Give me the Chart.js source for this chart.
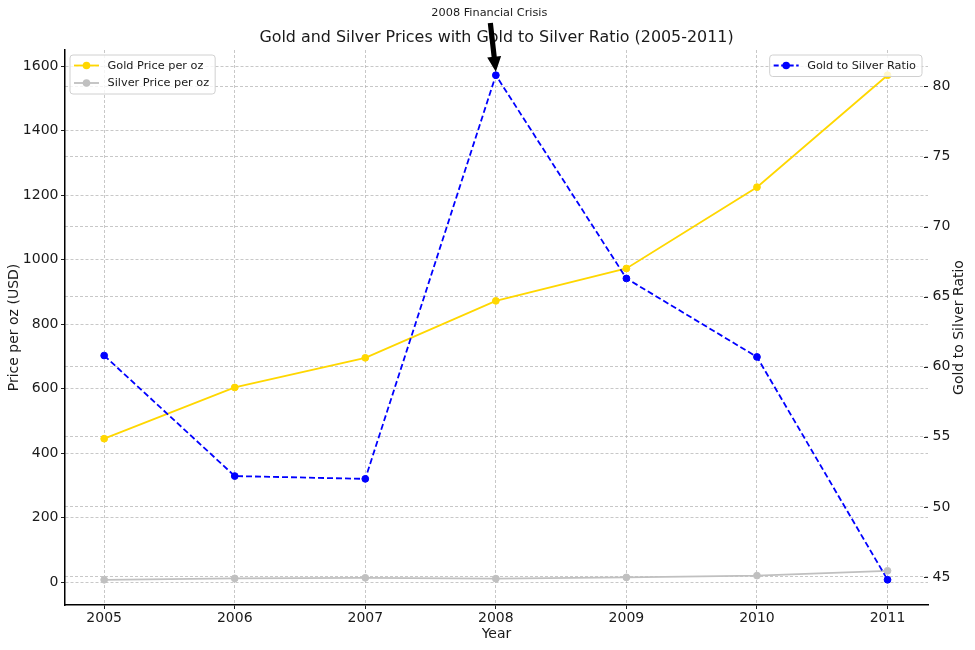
<!DOCTYPE html>
<html>
<head>
<meta charset="utf-8">
<script src="https://cdn.jsdelivr.net/npm/chart.js@4/dist/chart.umd.min.js"></script>
<style>
  html, body { margin: 0; padding: 0; background: #fff; }
  #wrap { width: 975px; height: 650px; position: relative; }
</style>
</head>
<body>
<div id="wrap"><canvas id="c" width="975" height="650"></canvas></div>
<script>
// ---- data ----
const years = [2005, 2006, 2007, 2008, 2009, 2010, 2011];
const goldPrice = [444.7, 603.5, 695.4, 872.0, 972.4, 1224.5, 1571.5];
const silverPrice = [7.3, 11.6, 13.4, 10.8, 14.7, 20.2, 35.1];
const goldSilverRatio = [60.8, 52.2, 52.0, 80.8, 66.3, 60.7, 44.8];
const titleText = 'Gold and Silver Prices with Gold to Silver Ratio (2005-2011)';
const annotationText = '2008 Financial Crisis';
const annotationYear = 2008;
const rightAxisTitle = 'Gold to Silver Ratio';

const FONT = "'DejaVu Sans', sans-serif";
const GOLD = '#FFD700', SILVER = '#C0C0C0', BLUE = '#0000FF';
const GRID = 'rgba(176,176,176,0.7)';
const TXT = '#1a1a1a';

const pts = (vals) => years.map((y, i) => ({ x: y, y: vals[i] }));

function roundRect(ctx, x, y, w, h, r) {
  ctx.beginPath();
  ctx.moveTo(x + r, y);
  ctx.lineTo(x + w - r, y);
  ctx.quadraticCurveTo(x + w, y, x + w, y + r);
  ctx.lineTo(x + w, y + h - r);
  ctx.quadraticCurveTo(x + w, y + h, x + w - r, y + h);
  ctx.lineTo(x + r, y + h);
  ctx.quadraticCurveTo(x, y + h, x, y + h - r);
  ctx.lineTo(x, y + r);
  ctx.quadraticCurveTo(x, y, x + r, y);
  ctx.closePath();
}

function drawLegend(ctx, anchorX, anchorY, alignRight, items) {
  ctx.save();
  ctx.font = '11.3px ' + FONT;
  let maxW = 0;
  items.forEach(it => { maxW = Math.max(maxW, ctx.measureText(it.label).width); });
  const rowH = 17.5;
  const w = 37.5 + maxW + 6;
  const h = 4 + rowH * items.length;
  const x = alignRight ? anchorX - w : anchorX;
  const y = anchorY;
  roundRect(ctx, x, y, w, h, 3);
  ctx.fillStyle = 'rgba(255,255,255,0.8)';
  ctx.fill();
  ctx.strokeStyle = '#d0d0d0';
  ctx.lineWidth = 1;
  ctx.stroke();
  items.forEach((it, i) => {
    const cy = y + 10.5 + i * rowH;
    ctx.beginPath();
    ctx.strokeStyle = it.color;
    ctx.lineWidth = 1.8;
    ctx.setLineDash(it.dash || []);
    ctx.moveTo(x + 4, cy);
    ctx.lineTo(x + 29, cy);
    ctx.stroke();
    ctx.setLineDash([]);
    ctx.beginPath();
    ctx.fillStyle = it.color;
    ctx.arc(x + 16.5, cy, 3.8, 0, Math.PI * 2);
    ctx.fill();
    ctx.fillStyle = TXT;
    ctx.textBaseline = 'middle';
    ctx.textAlign = 'left';
    ctx.fillText(it.label, x + 37.5, cy + 0.5);
  });
  ctx.restore();
}

const overlay = {
  id: 'overlay',
  afterDraw(chart) {
    const ctx = chart.ctx;
    const ca = chart.chartArea;
    const xs = chart.scales.x, yr = chart.scales.yRatio;
    // right-axis inward tick marks
    ctx.save();
    ctx.strokeStyle = '#222';
    ctx.lineWidth = 1;
    yr.ticks.forEach(t => {
      const y = Math.round(yr.getPixelForValue(t.value)) + 0.5;
      ctx.beginPath();
      ctx.moveTo(ca.right - 4, y);
      ctx.lineTo(ca.right, y);
      ctx.stroke();
    });
    // right-axis title (reads bottom to top)
    ctx.fillStyle = TXT;
    ctx.font = '14px ' + FONT;
    ctx.textAlign = 'center';
    ctx.textBaseline = 'middle';
    ctx.translate(959, (ca.top + ca.bottom) / 2);
    ctx.rotate(-Math.PI / 2);
    ctx.fillText(rightAxisTitle, 0, 0);
    ctx.restore();

    // title
    ctx.save();
    ctx.fillStyle = TXT;
    ctx.font = '15.9px ' + FONT;
    ctx.textAlign = 'center';
    ctx.textBaseline = 'middle';
    ctx.fillText(titleText, (ca.left + ca.right) / 2, ca.top - 12);
    // annotation text
    const idx = years.indexOf(annotationYear);
    const px = xs.getPixelForValue(annotationYear);
    const py = yr.getPixelForValue(goldSilverRatio[idx]);
    const tx = px - 6.5, ty = ca.top - 37;
    ctx.font = '11.3px ' + FONT;
    ctx.fillText(annotationText, tx, ty);
    // arrow
    const x0 = tx + 1, y0 = ty + 10;
    const x1 = px, y1 = py - 3.5;
    const ang = Math.atan2(y1 - y0, x1 - x0);
    const len = Math.hypot(x1 - x0, y1 - y0);
    ctx.translate(x0, y0);
    ctx.rotate(ang);
    const hl = 15, hw = 7, sw = 2.6;
    ctx.beginPath();
    ctx.moveTo(0, -sw);
    ctx.lineTo(len - hl, -sw);
    ctx.lineTo(len - hl, -hw);
    ctx.lineTo(len, 0);
    ctx.lineTo(len - hl, hw);
    ctx.lineTo(len - hl, sw);
    ctx.lineTo(0, sw);
    ctx.closePath();
    ctx.fillStyle = '#000';
    ctx.fill();
    ctx.restore();
    // legends
    drawLegend(ctx, ca.left + 5, ca.top + 5, false, [
      { label: 'Gold Price per oz', color: GOLD },
      { label: 'Silver Price per oz', color: SILVER }
    ]);
    drawLegend(ctx, ca.right - 6, ca.top + 5, true, [
      { label: 'Gold to Silver Ratio', color: BLUE, dash: [5, 2.5] }
    ]);
  }
};

const tickFont = { family: FONT, size: 14 };
const titleFont = { family: FONT, size: 14 };

new Chart(document.getElementById('c'), {
  type: 'line',
  data: {
    datasets: [
      {
        label: 'Gold to Silver Ratio', data: pts(goldSilverRatio), yAxisID: 'yRatio', order: 0,
        borderColor: BLUE, backgroundColor: BLUE, borderWidth: 1.8, borderDash: [6, 3],
        pointRadius: 3.4, pointBorderWidth: 1, pointBackgroundColor: BLUE, pointBorderColor: BLUE,
        tension: 0, fill: false
      },
      {
        label: 'Silver Price per oz', data: pts(silverPrice), yAxisID: 'yPrice', order: 1,
        borderColor: SILVER, backgroundColor: SILVER, borderWidth: 1.8,
        pointRadius: 3.4, pointBorderWidth: 1, pointBackgroundColor: SILVER, pointBorderColor: SILVER,
        tension: 0, fill: false
      },
      {
        label: 'Gold Price per oz', data: pts(goldPrice), yAxisID: 'yPrice', order: 2,
        borderColor: GOLD, backgroundColor: GOLD, borderWidth: 1.8,
        pointRadius: 3.4, pointBorderWidth: 1, pointBackgroundColor: GOLD, pointBorderColor: GOLD,
        tension: 0, fill: false
      }
    ]
  },
  options: {
    responsive: false,
    animation: false,
    devicePixelRatio: 1,
    layout: { padding: { top: 50, left: 0, right: 0, bottom: 0 } },
    plugins: { legend: { display: false }, title: { display: false }, tooltip: { enabled: false } },
    scales: {
      x: {
        type: 'linear', position: 'bottom',
        min: 2004.7, max: 2011.31,
        afterFit(s) { s.height = 45; },
        ticks: { stepSize: 1, includeBounds: false, font: tickFont, color: TXT, padding: 1, maxRotation: 0,
          callback: v => String(v) },
        grid: { color: GRID, lineWidth: 1, tickLength: 4, tickColor: '#222', tickWidth: 1, tickBorderDash: [] },
        border: { display: true, color: '#000', width: 1.5, dash: [3, 2] },
        title: { display: true, text: 'Year', font: titleFont, color: TXT, padding: { top: 0, bottom: 7 } }
      },
      yPrice: {
        type: 'linear', position: 'left',
        min: -70.9, max: 1649.7,
        afterFit(s) { s.width = 65; },
        ticks: { stepSize: 200, includeBounds: false, font: tickFont, color: TXT, padding: 2.5,
          callback: v => String(v) },
        grid: { color: GRID, lineWidth: 1, tickLength: 4, tickColor: '#222', tickWidth: 1, tickBorderDash: [] },
        border: { display: true, color: '#000', width: 1.5, dash: [3, 2] },
        title: { display: true, text: 'Price per oz (USD)', font: titleFont, color: TXT, padding: { top: 6, bottom: 0 } }
      },
      yRatio: {
        type: 'linear', position: 'right',
        min: 43.0, max: 82.6,
        afterFit(s) { s.width = 47; },
        ticks: { stepSize: 5, includeBounds: false, font: tickFont, color: TXT, padding: 4.5,
          callback: v => String(v) },
        grid: { color: GRID, lineWidth: 1, drawTicks: false, drawOnChartArea: true },
        border: { display: false, dash: [3, 2] },
        title: { display: false }
      }
    }
  },
  plugins: [overlay]
});
</script>
</body>
</html>
